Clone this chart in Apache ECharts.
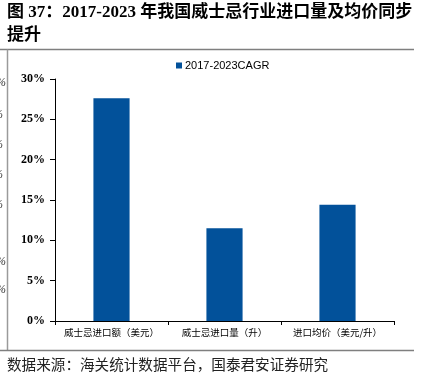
<!DOCTYPE html>
<html>
<head>
<meta charset="utf-8">
<script src="https://cdn.jsdelivr.net/npm/echarts@6/dist/echarts.min.js"></script>
<style>html,body{margin:0;padding:0;background:#fff;}#c{width:422px;height:379px;}</style>
</head>
<body>
<div id="c"></div>
<script>
var categories = ['威士忌进口额（美元）', '威士忌进口量（升）', '进口均价（美元/升）'];
var seriesName = '2017-2023CAGR';
var cagrValues = [27.6, 11.5, 14.4];
var yTicks = [0, 5, 10, 15, 20, 25, 30];
var titleLine1 = '图 37：2017-2023 年我国威士忌行业进口量及均价同步';
var titleLine2 = '提升';
var sourceText = '数据来源：海关统计数据平台，国泰君安证券研究';
var edgeMarks = [[-4, 83], [-7, 115], [-7, 145], [-7, 175], [-7, 205], [-4, 262], [-4, 290]];

var chart = echarts.init(document.getElementById('c'), null, {renderer: 'canvas'});
var graphics = [
  {type: 'text', left: 7, top: 4, style: {text: titleLine1, font: 'bold 17px "Liberation Serif", "Noto Sans CJK SC"', fill: '#000'}},
  {type: 'text', left: 7, top: 27, style: {text: titleLine2, font: 'bold 17px "Liberation Serif", "Noto Sans CJK SC"', fill: '#000'}},
  {type: 'line', shape: {x1: 0, y1: 49.5, x2: 414, y2: 49.5}, style: {stroke: '#7f7f7f', lineWidth: 1.5}},
  {type: 'line', shape: {x1: 7.5, y1: 49.5, x2: 7.5, y2: 350}, style: {stroke: '#9a9a9a', lineWidth: 1.5}},
  {type: 'line', shape: {x1: 0, y1: 350.5, x2: 414, y2: 350.5}, style: {stroke: '#7f7f7f', lineWidth: 1.5}},
  {type: 'text', left: 7, top: 357, style: {text: sourceText, font: '14.6px "Noto Sans CJK SC"', fill: '#222'}}
];
edgeMarks.forEach(function (m) {
  graphics.push({type: 'text', x: m[0], y: m[1], style: {text: '%', font: 'italic 12px "Liberation Serif"', fill: '#333', verticalAlign: 'middle'}});
});

chart.setOption({
  animation: false,
  backgroundColor: '#fff',
  graphic: graphics,
  legend: {
    top: 60, left: 176, padding: 0,
    itemWidth: 6, itemHeight: 6, itemGap: 4,
    icon: 'rect',
    textStyle: {fontSize: 11, fontFamily: '"Liberation Sans", Arial', color: '#000', padding: [0, 0, 0, -2]},
    data: [seriesName]
  },
  grid: {left: 55, top: 79, right: 28, bottom: 58, containLabel: false},
  xAxis: {
    type: 'category',
    data: categories,
    axisLine: {lineStyle: {color: '#000', width: 1}},
    axisTick: {show: true, length: 4, lineStyle: {color: '#000'}},
    axisLabel: {interval: 0, fontSize: 9.5, color: '#000', margin: 7, fontFamily: '"Noto Sans CJK SC"'}
  },
  yAxis: {
    type: 'value',
    min: 0, max: 30, interval: 5,
    splitLine: {show: false},
    axisLine: {show: true, lineStyle: {color: '#000', width: 1}},
    axisTick: {show: true, length: 5, lineStyle: {color: '#000'}},
    axisLabel: {
      margin: 10, color: '#000', fontSize: 12, fontWeight: 'bold', fontFamily: '"Liberation Serif", "Times New Roman"',
      formatter: function (v) { return yTicks.indexOf(v) >= 0 ? v + '%' : ''; }
    }
  },
  series: [{
    name: seriesName,
    type: 'bar',
    data: cagrValues,
    barWidth: '32%',
    itemStyle: {color: '#02519a'}
  }]
});
</script>
</body>
</html>
